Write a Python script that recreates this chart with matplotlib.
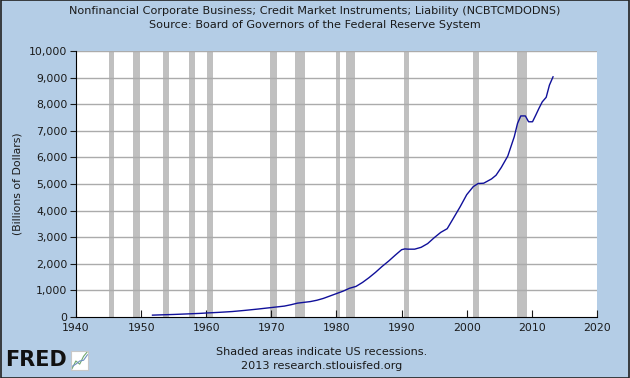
#chart of nonfinancial corporate credit market debt (FRED style)
import matplotlib
matplotlib.use("Agg")
import matplotlib.pyplot as plt
from matplotlib.patches import Rectangle
from matplotlib.ticker import FuncFormatter

#data (billions of dollars)
years = [1951.75, 1953, 1955, 1957, 1959, 1960, 1962, 1964, 1966, 1968, 1970,
         1972, 1973, 1974, 1975, 1976, 1977, 1978, 1979, 1980, 1981, 1982,
         1983, 1984, 1985, 1986, 1987, 1988, 1989, 1990, 1990.5, 1991, 1992,
         1993, 1994, 1995, 1996, 1997, 1997.8, 1999, 2000, 2001, 2001.75,
         2002.6, 2003.8, 2004.5, 2005.3, 2006.3, 2007.3, 2007.8, 2008.3, 2009.0,
         2009.5, 2010.1, 2010.6, 2011.1, 2011.6, 2012.2, 2012.7, 2013.25]
debt = [70, 80, 95, 115, 135, 150, 175, 205, 250, 300, 355,
        410, 460, 520, 550, 580, 630, 700, 790, 880, 970, 1080,
        1150, 1300, 1480, 1680, 1900, 2100, 2320, 2530, 2560, 2550, 2550,
        2620, 2760, 2980, 3180, 3320, 3650, 4150, 4600, 4900, 5020,
        5030, 5190, 5330, 5620, 6050, 6780, 7280, 7560, 7560,
        7340, 7340, 7590, 7850, 8090, 8260, 8720, 9030]

#recession periods (start, end) as shaded on the chart
rec_start = [1945.0, 1948.8, 1953.3, 1957.4, 1960.1, 1969.8, 1973.7, 1979.85, 1981.4, 1990.3, 2001.0, 2007.7]
rec_end = [1945.85, 1949.85, 1954.3, 1958.3, 1961.0, 1970.9, 1975.2, 1980.5, 1982.8, 1991.2, 2001.9, 2009.3]

x_ticks = list(range(1940, 2021, 10))
y_ticks = list(range(0, 10001, 1000))

bg = '#B4CDE6'
txt = '#1a1a1a'

fig = plt.figure(figsize=(6.3, 3.78), dpi=100, facecolor=bg)
ax = fig.add_axes([0.1206, 0.1614, 0.8270, 0.7036])

#recession bars
for s, e in zip(rec_start, rec_end):
    ax.axvspan(s, e, color='#C0C0C0', lw=0, zorder=1)

#horizontal grid
for v in y_ticks[1:]:
    ax.axhline(v, color='#ABABAB', lw=1, zorder=2)

ax.plot(years, debt, color='#10109A', lw=1, zorder=3)

ax.set_xlim(1940, 2020)
ax.set_ylim(0, 10000)
ax.set_xticks(x_ticks)
ax.set_yticks(y_ticks)
ax.yaxis.set_major_formatter(FuncFormatter(lambda v, p: '{:,.0f}'.format(v)))
ax.tick_params(axis='x', direction='in', length=5, labelsize=7.8, colors=txt, pad=4)
ax.tick_params(axis='y', direction='out', length=4, labelsize=7.8, colors=txt, pad=2)
for side in ['top', 'right']:
    ax.spines[side].set_visible(False)
ax.spines['left'].set_color('black')
ax.spines['bottom'].set_color('black')
ax.set_ylabel('(Billions of Dollars)', fontsize=7.8, color=txt, labelpad=5)

#titles
fig.text(0.5, 0.971, 'Nonfinancial Corporate Business; Credit Market Instruments; Liability (NCBTCMDODNS)',
         ha='center', va='center', fontsize=8.1, color=txt)
fig.text(0.5, 0.934, 'Source: Board of Governors of the Federal Reserve System',
         ha='center', va='center', fontsize=8.1, color=txt)

#footer
fig.text(0.511, 0.069, 'Shaded areas indicate US recessions.', ha='center', va='center', fontsize=8.1, color=txt)
fig.text(0.511, 0.032, '2013 research.stlouisfed.org', ha='center', va='center', fontsize=8.1, color=txt)

#FRED logo
fig.text(0.008, 0.047, 'FRED', ha='left', va='center', fontsize=15, fontweight='bold', color='#111111')
icon = fig.add_axes([0.113, 0.022, 0.027, 0.05], facecolor='white')
icon.plot([0, 1, 2, 3, 4], [0, 1, 0.6, 1.6, 2.2], color='#70A870', lw=0.8)
icon.plot([0, 1, 2, 3, 4], [0.3, 0.6, 1.0, 1.1, 1.8], color='#7090C0', lw=0.8)
icon.set_xticks([])
icon.set_yticks([])
for sp in icon.spines.values():
    sp.set_color('#C8C8C8')

#outer border
fig.patches.append(Rectangle((0.0008, 0.0013), 0.9984, 0.9974, transform=fig.transFigure,
                             fill=False, edgecolor='#222222', lw=1.2))

fig.savefig('out.png', dpi=100, facecolor=bg)
